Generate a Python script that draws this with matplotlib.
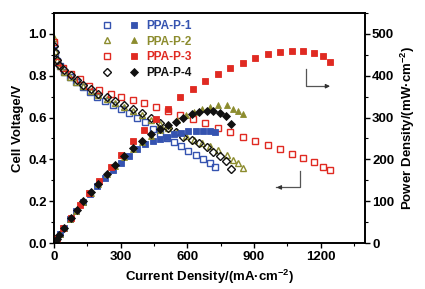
import matplotlib
matplotlib.use("Agg")
import matplotlib.pyplot as plt
from matplotlib.lines import Line2D
from matplotlib.legend_handler import HandlerTuple
from matplotlib.ticker import MultipleLocator

plt.rcParams['font.family'] = ['Liberation Sans', 'DejaVu Sans']
plt.rcParams['font.weight'] = 'bold'
plt.rcParams['mathtext.fontset'] = 'custom'
plt.rcParams['mathtext.rm'] = 'Liberation Sans:bold'
plt.rcParams['mathtext.bf'] = 'Liberation Sans:bold'
plt.rcParams['mathtext.default'] = 'rm'

labels = ['PPA-P-1', 'PPA-P-2', 'PPA-P-3', 'PPA-P-4']
colors = ['#3553b0', '#8c8c2e', '#e02a22', '#111111']
markers = ['s', '^', 's', 'D']

# PPA-P-1
i1 = [0, 4, 12, 25, 45, 72, 100, 130, 162, 195, 230, 265, 300, 337, 373, 410,
      447, 477, 507, 540, 572, 604, 638, 669, 702, 724]
v1 = [0.95, 0.91, 0.87, 0.845, 0.818, 0.792, 0.768, 0.745, 0.722, 0.700, 0.680,
      0.660, 0.640, 0.620, 0.600, 0.578, 0.545, 0.520, 0.500, 0.482, 0.462,
      0.442, 0.422, 0.402, 0.382, 0.364]
p1 = [0, 3.6, 10.4, 21, 37, 57, 77, 97, 117, 137, 156, 175, 192, 209, 224, 237,
      243, 248, 253, 260, 264, 267, 269, 269, 268, 265]

# PPA-P-2
i2 = [0, 4, 12, 25, 45, 72, 100, 132, 165, 200, 237, 275, 315, 355, 395, 435,
      475, 515, 555, 595, 632, 667, 702, 739, 777, 807, 829, 852]
v2 = [0.98, 0.92, 0.875, 0.845, 0.820, 0.795, 0.772, 0.750, 0.728, 0.707, 0.690,
      0.670, 0.650, 0.630, 0.610, 0.590, 0.570, 0.550, 0.530, 0.512, 0.495,
      0.480, 0.463, 0.445, 0.423, 0.398, 0.381, 0.361]
p2 = [0, 3.7, 10.5, 21, 37, 57, 77, 99, 120, 141, 164, 184, 205, 224, 241, 257,
      271, 283, 294, 305, 313, 320, 325, 329, 329, 321, 316, 308]

# PPA-P-3
i3 = [1, 15, 42, 75, 117, 159, 204, 255, 300, 354, 405, 458, 512, 569, 624, 681,
      737, 794, 850, 906, 964, 1017, 1070, 1122, 1171, 1212, 1243]
v3 = [0.963, 0.867, 0.836, 0.809, 0.785, 0.751, 0.732, 0.715, 0.700, 0.686,
      0.670, 0.650, 0.632, 0.614, 0.592, 0.572, 0.551, 0.530, 0.509, 0.488,
      0.469, 0.448, 0.426, 0.405, 0.386, 0.365, 0.348]
p3 = [1, 13, 35, 61, 92, 119, 149, 182, 210, 243, 271, 297, 320, 348, 368, 387,
      405, 418, 431, 443, 453, 456, 460, 460, 455, 447, 433]

# PPA-P-4
i4 = [0, 4, 12, 24, 45, 75, 102, 132, 165, 199, 237, 275, 315, 357, 395, 435,
      477, 512, 547, 582, 620, 654, 687, 717, 747, 774, 797]
v4 = [0.94, 0.915, 0.876, 0.852, 0.828, 0.804, 0.780, 0.756, 0.735, 0.713,
      0.700, 0.679, 0.660, 0.640, 0.621, 0.597, 0.573, 0.552, 0.530, 0.509,
      0.493, 0.477, 0.458, 0.437, 0.416, 0.394, 0.354]
p4 = [0, 3.7, 10.5, 20.4, 37, 60, 80, 100, 121, 142, 166, 187, 208, 228, 245,
      260, 273, 283, 290, 300, 308, 313, 315, 315, 310, 303, 284]

currents = [i1, i2, i3, i4]
voltages = [v1, v2, v3, v4]
powers = [p1, p2, p3, p4]

fig = plt.figure(figsize=(4.25, 2.89), dpi=100)
ax = fig.add_axes([0.127, 0.159, 0.732, 0.796])
ax2 = ax.twinx()

ms = 5.0
for cur, vol, pw, c, m in zip(currents, voltages, powers, colors, markers):
    msz = ms - 0.5 if m == 'D' else ms
    ax.plot(cur, vol, linestyle='none', marker=m, ms=msz, mfc='none', mec=c, mew=1.0)
    ax2.plot(cur, pw, linestyle='none', marker=m, ms=msz, mfc=c, mec=c, mew=0.6)

ax.set_xlim(0, 1400)
ax.set_ylim(0, 1.1)
ax2.set_ylim(0, 550)
ax.xaxis.set_major_locator(MultipleLocator(300))
ax.xaxis.set_minor_locator(MultipleLocator(150))
ax.yaxis.set_major_locator(MultipleLocator(0.2))
ax.yaxis.set_minor_locator(MultipleLocator(0.1))
ax2.yaxis.set_major_locator(MultipleLocator(100))
ax2.yaxis.set_minor_locator(MultipleLocator(50))
ax.yaxis.set_major_formatter(matplotlib.ticker.FormatStrFormatter('%.1f'))

for a in (ax, ax2):
    a.tick_params(which='major', direction='out', length=3.5, width=1.0, labelsize=9.5, pad=1.5)
    a.tick_params(which='minor', direction='out', length=2, width=0.8)
    for s in a.spines.values():
        s.set_linewidth(1.2)
ax.tick_params(axis='x', which='major', pad=2.5)

ax.set_xlabel('Current Density/(mA·cm$^{-2}$)', fontsize=9.5, fontweight='bold', labelpad=3)
ax.set_ylabel('Cell Voltage/V', fontsize=9.5, fontweight='bold', labelpad=3)
ax2.set_ylabel('Power Density/(mW·cm$^{-2}$)', fontsize=9.5, fontweight='bold', labelpad=3)

# Direction arrows
ax.plot([1108, 1108, 1000], [0.344, 0.266, 0.266], color='#555555', lw=0.9)
ax.annotate('', xy=(990, 0.266), xytext=(1030, 0.266),
            arrowprops=dict(arrowstyle='-|>', color='#333333', lw=0.9, mutation_scale=6))
ax.plot([1135, 1135, 1230], [0.83, 0.75, 0.75], color='#555555', lw=0.9)
ax.annotate('', xy=(1255, 0.75), xytext=(1215, 0.75),
            arrowprops=dict(arrowstyle='-|>', color='#333333', lw=0.9, mutation_scale=6))

handles = []
for c, m in zip(colors, markers):
    msz = ms - 0.5 if m == 'D' else ms
    h_open = Line2D([], [], linestyle='none', marker=m, ms=msz, mfc='none', mec=c, mew=1.0)
    h_fill = Line2D([], [], linestyle='none', marker=m, ms=msz, mfc=c, mec=c, mew=0.6)
    handles.append((h_open, h_fill))
leg = ax.legend(handles, labels, handler_map={tuple: HandlerTuple(ndivide=None, pad=1.5)},
                loc='upper left', bbox_to_anchor=(0.13, 1.0), frameon=False,
                handlelength=3.2, handletextpad=0.6, labelspacing=0.3,
                prop={'size': 8.5, 'weight': 'bold'}, borderaxespad=0.2)
for t, c in zip(leg.get_texts(), colors):
    t.set_color(c)

fig.savefig('out.png', dpi=100)
